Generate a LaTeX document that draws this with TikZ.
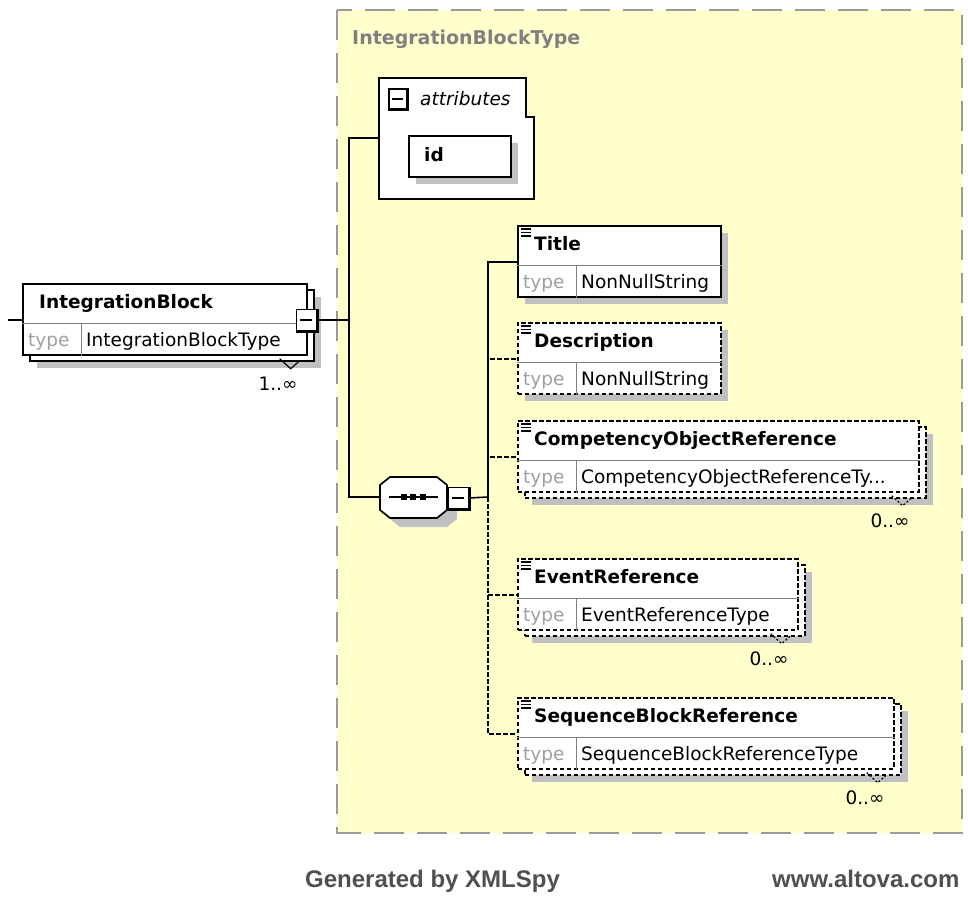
\documentclass[tikz,border=0pt]{standalone}
\usepackage{fontspec}
\setmainfont{DejaVu Sans}
\newfontfamily\footfont{Liberation Sans}
\definecolor{panelfill}{HTML}{FFFFCC}
\definecolor{panelline}{HTML}{9A9A9A}
\definecolor{shadowgray}{HTML}{C0C0C0}
\definecolor{typegray}{HTML}{A0A0A0}
\definecolor{rulegray}{HTML}{808080}
\definecolor{footgray}{HTML}{505050}
\newcommand{\boxfont}{\fontsize{18.5}{22}\selectfont}
\tikzset{
  elembox/.style={draw=black, fill=white, line width=1.7pt, minimum height=71pt, inner sep=0pt, anchor=north west},
  optional/.style={dash pattern=on 4.5pt off 2.5pt},
  rule/.style={draw=rulegray, line width=1pt},
  conn/.style={draw=black, line width=1.6pt},
  eltitle/.style={anchor=base west, inner sep=0pt, font=\boxfont\bfseries},
  eltype/.style={anchor=base west, inner sep=0pt, font=\boxfont},
  btn/.style={draw=black, fill=white, line width=1.4pt, minimum width=20pt, minimum height=21pt, inner sep=0pt},
  foot/.style={anchor=base west, inner sep=0pt, text=footgray, font=\footfont\fontsize{24}{28}\selectfont\bfseries}
}
% element box: name, x, y, width, title, type, border, copies
\newcommand{\xsdelement}[8]{%
  \ifnum#8=1
    \fill[shadowgray] (#2+15,#3+14) rectangle ++(#4,71);
    \node[elembox, #7, minimum width=#4pt] (#1-back) at (#2+7,#3+6) {};
  \else
    \fill[shadowgray] (#2+8,#3+8) rectangle ++(#4,71);
  \fi
  \node[elembox, #7, minimum width=#4pt] (#1) at (#2,#3) {};
  \draw[rule] ([yshift=-40pt]#1.north west) -- ([yshift=-40pt]#1.north east);
  \draw[rule] ([xshift=59pt,yshift=-40pt]#1.north west) -- ([xshift=59pt]#1.south west);
  \node[eltitle] at ([xshift=17pt,yshift=-25pt]#1.north west) {#5};
  \node[eltype, text=typegray] at ([xshift=6pt,yshift=-63pt]#1.north west) {type};
  \node[eltype] at ([xshift=64pt,yshift=-63pt]#1.north west) {#6};
  \coordinate (#1-in) at ([yshift=-37pt]#1.north west);
}
\newcommand{\occurs}[3]{%
  \draw[line width=1.2pt, #3] ([shift={(-35,-3)}]#1-back.south east) -- ([shift={(-24,7)}]#1-back.south east) -- ([shift={(-15,-1)}]#1-back.south east);
  \node[eltype, anchor=base east] at ([shift={(-17,29)}]#1-back.south east) {#2};
}
\newcommand{\simpleicon}[1]{\foreach \k in {4,7.5,11} {\draw[line width=1.1pt] ([xshift=4pt,yshift=-\k pt]#1.north west) -- ++(10,0);}}
\newcommand{\minusbtn}[4]{%
  \node[btn, #4] (#1) at (#2,#3) {};
  \draw[line width=3pt] (#1.south west) -- (#1.south east) -- (#1.north east);
  \draw[line width=1.4pt] ([xshift=4pt]#1.west) -- ([xshift=-5pt]#1.east);
}

\begin{document}
\begin{tikzpicture}[x=1pt, y=-1pt]
  \useasboundingbox[fill=white] (0,0) rectangle (968,896);
  \draw[panelline, fill=panelfill, line width=2pt, dash pattern=on 30pt off 13pt] (337,10) rectangle (962,833);
  \node[anchor=base west, inner sep=0pt, text=gray, font=\fontsize{19}{22}\selectfont\bfseries] (paneltitle) at (352,45) {IntegrationBlockType};

  \draw[line width=1.7pt, fill=white] (379,78) -- (526,78) -- (526,117) -- (534,117) -- (534,199) -- (379,199) -- cycle;
  \minusbtn{attrbtn}{398}{99}{minimum width=18pt, minimum height=20pt}
  \node[eltype, font=\boxfont\itshape] (attrlabel) at (420,106) {attributes};
  \fill[shadowgray] (416,143) rectangle ++(102,41);
  \node[elembox, minimum width=102pt, minimum height=41pt] (idbox) at (408,135) {};
  \node[eltitle] at (424,162) {id};
  \coordinate (attr-in) at (379,138);

  \xsdelement{ib}{22}{283}{284}{IntegrationBlock}{IntegrationBlockType}{}{1}
  \occurs{ib}{1..∞}{}
  \minusbtn{ibbtn}{306.5}{320}{}
  \coordinate (root) at (8,320);
  \coordinate (trunk) at (349,320);

  \fill[shadowgray] (400,486) -- (447,486) -- (457,494) -- (457,519) -- (447,527) -- (400,527) -- (390,519) -- (390,494) -- cycle;
  \draw[line width=1.7pt, fill=white] (390,477) -- (437,477) -- (447,485) -- (447,510) -- (437,518) -- (390,518) -- (380,510) -- (380,485) -- cycle;
  \draw[line width=1.4pt] (389,497) -- (438,497);
  \foreach \d in {404,413,423} {\fill (\d-3,494) rectangle ++(6,6);}
  \minusbtn{seqbtn}{458.5}{498}{}
  \coordinate (seq-in) at (380,497);
  \coordinate (fork) at (488,497);

  \xsdelement{title}{517}{225}{203}{Title}{NonNullString}{}{0}
  \xsdelement{desc}{517}{322}{203}{Description}{NonNullString}{optional}{0}
  \xsdelement{compref}{517}{420}{401}{CompetencyObjectReference}{CompetencyObjectReferenceTy...}{optional}{1}
  \xsdelement{eventref}{517}{558}{280}{EventReference}{EventReferenceType}{optional}{1}
  \xsdelement{seqblockref}{517}{697}{376}{SequenceBlockReference}{SequenceBlockReferenceType}{optional}{1}
  \foreach \n in {title,desc,compref,eventref,seqblockref} {\simpleicon{\n}}
  \occurs{compref}{0..∞}{dash pattern=on 2pt off 2pt}
  \occurs{eventref}{0..∞}{dash pattern=on 2pt off 2pt}
  \occurs{seqblockref}{0..∞}{dash pattern=on 2pt off 2pt}

  \draw[conn] (root) -- (ib-in);
  \draw[conn] (ibbtn.east) -- (trunk);
  \draw[conn] (attr-in) -| (trunk);
  \draw[conn] (trunk) |- (seq-in);
  \draw[conn] (seqbtn.east) -- (fork);
  \draw[conn] (fork) |- (title-in);
  \foreach \n in {desc,compref,eventref,seqblockref} {\draw[conn, optional] (fork) |- (\n-in);}

  \node[foot] (generated) at (305,887) {Generated by XMLSpy};
  \node[foot] (website) at (772,887) {www.altova.com};
\end{tikzpicture}
\end{document}
